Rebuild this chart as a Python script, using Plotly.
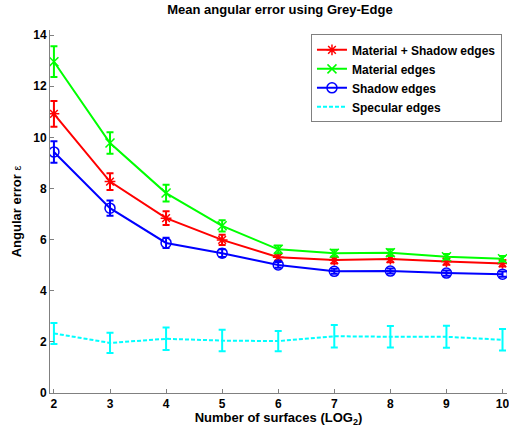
import plotly.graph_objects as go

x_vals = [2, 3, 4, 5, 6, 7, 8, 9, 10]
mat_shadow = [10.92, 8.27, 6.84, 5.99, 5.31, 5.20, 5.24, 5.14, 5.07]
mat_shadow_err = [0.50, 0.33, 0.27, 0.20, 0.14, 0.13, 0.13, 0.12, 0.12]
material = [12.96, 9.78, 7.82, 6.54, 5.62, 5.47, 5.49, 5.33, 5.25]
material_err = [0.60, 0.42, 0.33, 0.22, 0.15, 0.13, 0.13, 0.11, 0.11]
shadow = [9.43, 7.23, 5.87, 5.47, 5.01, 4.76, 4.77, 4.69, 4.65]
shadow_err = [0.42, 0.30, 0.20, 0.15, 0.11, 0.10, 0.10, 0.10, 0.10]
specular = [2.33, 1.96, 2.12, 2.05, 2.03, 2.22, 2.20, 2.20, 2.08]
specular_err = [0.41, 0.40, 0.44, 0.42, 0.40, 0.44, 0.42, 0.43, 0.42]

names = ["Material + Shadow edges", "Material edges", "Shadow edges", "Specular edges"]
x_ticks = [2, 3, 4, 5, 6, 7, 8, 9, 10]
y_ticks = [0, 2, 4, 6, 8, 10, 12, 14]

fig = go.Figure()

def add(y, err, name, color, symbol, msize, dash="solid"):
    fig.add_trace(go.Scatter(
        x=x_vals, y=y, name=name,
        mode="lines+markers" if symbol else "lines",
        line=dict(color=color, width=2, dash=dash),
        marker=dict(symbol=symbol or "circle", size=msize, color=color,
                    line=dict(color=color, width=1.5)),
        error_y=dict(type="data", array=err, visible=True, color=color,
                     thickness=2, width=3.5),
    ))

add(mat_shadow, mat_shadow_err, names[0], "#FF0000", "asterisk-open", 9)
add(material, material_err, names[1], "#00FF00", "x-thin-open", 9)
add(shadow, shadow_err, names[2], "#0000FF", "circle-open", 10)
add(specular, specular_err, names[3], "#00FFFF", None, 6, dash="4px,2px")

FONT = "Liberation Sans, Arial"
axis_font = dict(family=FONT, size=12, color="black", weight="bold")

fig.update_layout(
    width=509, height=427,
    margin=dict(l=50, r=2, t=30, b=34, autoexpand=False),
    paper_bgcolor="white", plot_bgcolor="white",
    title=dict(text="Mean angular error using Grey-Edge", x=0.55, xanchor="center",
               y=0.988, yanchor="top",
               font=dict(family=FONT, size=13, color="black", weight="bold")),
    xaxis=dict(range=[1.93, 10.08], tickvals=x_ticks, ticks="inside", ticklen=4,
               tickcolor="#808080", showline=True, linecolor="#808080", linewidth=1,
               showgrid=False, zeroline=False, tickfont=axis_font, automargin=False,
               ticklabeloverflow="allow",
               title=dict(text="Number of surfaces (LOG<sub>2</sub>)", standoff=0,
                          font=dict(family=FONT, size=13, color="black", weight="bold"))),
    yaxis=dict(range=[0, 14.2], tickvals=y_ticks, ticks="inside", ticklen=4,
               tickcolor="#808080", showline=True, linecolor="#808080", linewidth=1,
               showgrid=False, zeroline=False, tickfont=axis_font, automargin=False,
               title=dict(text="Angular error <span style='font-weight:normal;font-size:11px'>ε</span>",
                          standoff=8,
                          font=dict(family=FONT, size=13, color="black", weight="bold"))),
    legend=dict(x=0.989, y=0.988, xanchor="right", yanchor="top",
                bgcolor="white", bordercolor="#808080", borderwidth=1,
                font=dict(family=FONT, size=12, color="black", weight="bold"),
                tracegroupgap=0, itemwidth=30),
    showlegend=True,
)

fig.write_html("out.html", config={"displayModeBar": False},
               post_script="document.body.style.margin='0px';")
